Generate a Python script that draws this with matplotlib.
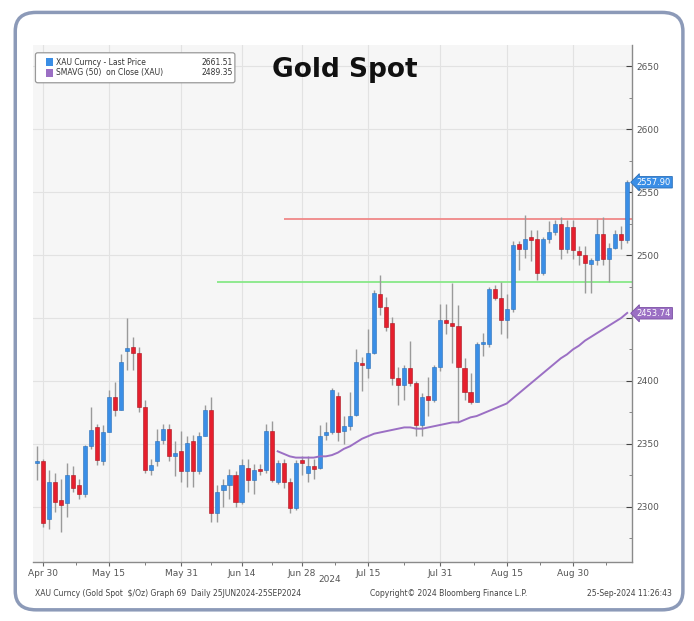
import numpy as np
import matplotlib
matplotlib.use("Agg")
import matplotlib.pyplot as plt
from matplotlib.patches import FancyBboxPatch, Rectangle

# daily OHLC (weekdays, 29 Apr - 13 Sep 2024)
opens = [2335, 2336, 2290, 2320, 2305, 2303, 2325, 2317, 2310, 2348,
         2363, 2336, 2359, 2387, 2377, 2424, 2427, 2422, 2379, 2329,
         2336, 2353, 2362, 2340, 2344, 2328, 2352, 2328, 2356, 2377,
         2295, 2313, 2317, 2325, 2304, 2331, 2321, 2330, 2329, 2360,
         2320, 2335, 2320, 2299, 2337, 2327, 2332, 2331, 2357, 2359,
         2388, 2360, 2364, 2373, 2414, 2410, 2422, 2469, 2459, 2446,
         2402, 2397, 2410, 2398, 2365, 2388, 2385, 2411, 2448, 2446,
         2444, 2410, 2391, 2383, 2429, 2429, 2473, 2466, 2448, 2457,
         2509, 2505, 2514, 2513, 2486, 2513, 2518, 2525, 2505, 2522,
         2503, 2500, 2493, 2496, 2517, 2497, 2506, 2517, 2512]
highs = [2348, 2338, 2329, 2327, 2322, 2335, 2332, 2322, 2349, 2379,
         2366, 2365, 2393, 2399, 2421, 2450, 2435, 2427, 2385, 2338,
         2362, 2366, 2366, 2352, 2360, 2356, 2357, 2359, 2381, 2387,
         2317, 2322, 2330, 2328, 2338, 2338, 2334, 2334, 2366, 2368,
         2337, 2338, 2323, 2337, 2340, 2340, 2338, 2365, 2367, 2394,
         2391, 2372, 2391, 2425, 2419, 2441, 2472, 2484, 2467, 2451,
         2411, 2413, 2432, 2400, 2390, 2403, 2413, 2461, 2461, 2478,
         2460, 2418, 2406, 2431, 2438, 2475, 2476, 2479, 2469, 2511,
         2511, 2532, 2520, 2520, 2514, 2527, 2528, 2530, 2528, 2528,
         2507, 2507, 2498, 2529, 2530, 2510, 2520, 2523, 2560]
lows = [2321, 2284, 2282, 2296, 2280, 2292, 2312, 2306, 2308, 2346,
        2333, 2333, 2359, 2372, 2377, 2409, 2409, 2375, 2327, 2325,
        2332, 2350, 2336, 2324, 2320, 2316, 2316, 2326, 2356, 2288,
        2288, 2300, 2306, 2300, 2302, 2312, 2310, 2325, 2327, 2320,
        2318, 2315, 2295, 2297, 2325, 2320, 2322, 2330, 2353, 2358,
        2352, 2350, 2361, 2372, 2392, 2402, 2421, 2452, 2440, 2397,
        2381, 2385, 2396, 2356, 2356, 2372, 2383, 2408, 2437, 2414,
        2367, 2385, 2382, 2383, 2420, 2427, 2464, 2437, 2434, 2455,
        2488, 2498, 2495, 2480, 2484, 2510, 2516, 2497, 2502, 2497,
        2492, 2470, 2470, 2492, 2492, 2479, 2505, 2505, 2510]
closes = [2336, 2287, 2320, 2304, 2301, 2325, 2315, 2310, 2348, 2361,
          2337, 2359, 2387, 2377, 2415, 2426, 2422, 2379, 2329, 2333,
          2352, 2362, 2340, 2343, 2328, 2351, 2328, 2356, 2377, 2295,
          2312, 2317, 2325, 2304, 2333, 2321, 2329, 2328, 2360, 2321,
          2335, 2320, 2299, 2335, 2335, 2332, 2330, 2356, 2359, 2393,
          2359, 2364, 2372, 2415, 2413, 2422, 2470, 2459, 2443, 2402,
          2397, 2410, 2398, 2365, 2387, 2385, 2411, 2448, 2446, 2444,
          2411, 2391, 2383, 2429, 2431, 2473, 2466, 2448, 2457, 2508,
          2505, 2513, 2512, 2486, 2513, 2518, 2525, 2505, 2522, 2504,
          2500, 2494, 2496, 2517, 2497, 2506, 2517, 2512, 2558]

# 50-day moving average, shown from day index 40 onwards
sma_start = 40
sma_vals = [2344, 2342, 2340, 2339, 2339, 2339, 2339, 2340, 2340, 2341,
            2343, 2346, 2348, 2351, 2354, 2356, 2358, 2359, 2360, 2361,
            2362, 2363, 2363, 2362, 2362, 2363, 2364, 2365, 2366, 2367,
            2367, 2369, 2371, 2372, 2374, 2376, 2378, 2380, 2382, 2386,
            2390, 2394, 2398, 2402, 2406, 2410, 2414, 2418, 2421, 2425,
            2428, 2432, 2435, 2438, 2441, 2444, 2447, 2450, 2454]

tick_idx = [1, 12, 24, 34, 44, 55, 67, 78, 89]
tick_labels = ['Apr 30', 'May 15', 'May 31', 'Jun 14', 'Jun 28',
               'Jul 15', 'Jul 31', 'Aug 15', 'Aug 30']
y_ticks = [2300, 2350, 2400, 2450, 2500, 2550, 2600, 2650]
# 2450 sits under the SMA tag in the screenshot
y_tick_labels = ['2300', '2350', '2400', '', '2500', '2550', '2600', '2650']

resistance = 2529   # red line
support = 2478.5    # green line
res_start, sup_start = 41, 30
last_price, last_sma = 2557.90, 2453.74

BLUE = '#3a8ee6'
RED = '#e61f2d'
PURPLE = '#9b6fc4'

fig = plt.figure(figsize=(6.94, 6.21), dpi=100)
fig.patch.set_facecolor('white')

# rounded frame around the whole screenshot
frame = FancyBboxPatch((0.022, 0.018), 0.962, 0.962,
                       boxstyle="round,pad=0,rounding_size=0.03",
                       transform=fig.transFigure, fill=False,
                       edgecolor='#8c9ab8', linewidth=2.5)
fig.patches.append(frame)

ax = fig.add_axes([0.0476, 0.095, 0.8631, 0.8325])
ax.set_facecolor('#f6f6f6')

o = np.array(opens, float)
h = np.array(highs, float)
l = np.array(lows, float)
c = np.array(closes, float)
x = np.arange(len(o))
up = c >= o
colors = np.where(up, BLUE, RED)
edges = np.where(up, '#2a6fb8', '#a8141f')

ax.vlines(x, l, h, color='#9a9a9a', linewidth=1.0, zorder=2)
body_bottom = np.minimum(o, c)
body_h = np.maximum(np.abs(c - o), 1.2)
ax.bar(x, body_h, bottom=body_bottom, width=0.68, color=colors,
       edgecolor=edges, linewidth=0.4, zorder=3)

xs = np.arange(sma_start, sma_start + len(sma_vals))
ax.plot(xs, sma_vals, color=PURPLE, linewidth=1.4, zorder=4)

ax.hlines(resistance, res_start, len(o) - 0.2, color='#f08888', linewidth=1.3, zorder=1.5)
ax.hlines(support, sup_start, len(o) - 0.2, color='#88e888', linewidth=1.3, zorder=1.5)

ax.set_xlim(-0.6, 98.8)
ax.set_ylim(2256, 2667)

ax.set_yticks(y_ticks)
ax.set_yticklabels(y_tick_labels)
ax.set_yticks(np.arange(2275, 2651, 25), minor=True)
ax.yaxis.tick_right()
ax.tick_params(axis='y', which='major', labelsize=6.5, labelcolor='#555555',
               color='#444444', length=4, direction='in', pad=3)
ax.tick_params(axis='y', which='minor', color='#777777', length=2, direction='in')
ax.set_xticks(tick_idx)
ax.set_xticklabels(tick_labels)
mids = [(a + b) / 2 for a, b in zip(tick_idx[:-1], tick_idx[1:])] + [94.5]
ax.set_xticks(mids, minor=True)
ax.tick_params(axis='x', which='major', labelsize=6.5, labelcolor='#555555',
               color='#666666', length=3, direction='out', pad=2)
ax.tick_params(axis='x', which='minor', color='#666666', length=2, direction='out')

ax.grid(True, which='major', color='#e2e2e2', linewidth=0.8, zorder=0)
ax.set_axisbelow(True)
for side in ['top', 'left']:
    ax.spines[side].set_visible(False)
for side in ['bottom', 'right']:
    ax.spines[side].set_color('#8a8a8a')
    ax.spines[side].set_linewidth(1.0)

# value tags on the right axis
trans = ax.get_yaxis_transform()
ax.text(1.008, last_price, f"{last_price:.2f}", transform=trans, fontsize=6,
        color='white', va='center', ha='left', clip_on=False, zorder=6,
        bbox=dict(boxstyle='larrow,pad=0.15', fc=BLUE, ec='#2a6fb8', lw=0.6))
ax.text(1.008, last_sma, f"{last_sma:.2f}", transform=trans, fontsize=6,
        color='white', va='center', ha='left', clip_on=False, zorder=6,
        bbox=dict(boxstyle='larrow,pad=0.15', fc=PURPLE, ec='#7a4fa4', lw=0.6))

# legend box
lg = FancyBboxPatch((0.004, 0.927), 0.333, 0.058,
                    boxstyle="round,pad=0,rounding_size=0.004",
                    transform=ax.transAxes, fc='white', ec='#999999', lw=0.9,
                    zorder=7)
ax.add_patch(lg)
rows = [(BLUE, 'XAU Curncy - Last Price', '2661.51'),
        (PURPLE, 'SMAVG (50)  on Close (XAU)', '2489.35')]
for i, (col, name, val) in enumerate(rows):
    yy = 0.967 - i * 0.021
    ax.add_patch(Rectangle((0.022, yy - 0.008), 0.012, 0.016, transform=ax.transAxes,
                           fc=col, ec='none', zorder=8))
    ax.text(0.038, yy, name, transform=ax.transAxes, fontsize=5.5,
            color='#333333', va='center', ha='left', zorder=8)
    ax.text(0.333, yy, val, transform=ax.transAxes, fontsize=5.5,
            color='#333333', va='center', ha='right', zorder=8)

fig.text(345 / 694, 1 - 70 / 621, 'Gold Spot', fontsize=19, fontweight='bold',
         ha='center', va='center', color='#111111')

fig.text(330 / 694, 1 - 580 / 621, '2024', fontsize=6.5, color='#555555',
         ha='center', va='center')
fig.text(35 / 694, 1 - 594 / 621,
         'XAU Curncy (Gold Spot  $/Oz) Graph 69  Daily 25JUN2024-25SEP2024',
         fontsize=5.5, color='#444444', ha='left', va='center')
fig.text(370 / 694, 1 - 594 / 621, 'Copyright\u00a9 2024 Bloomberg Finance L.P.',
         fontsize=5.5, color='#444444', ha='left', va='center')
fig.text(672 / 694, 1 - 594 / 621, '25-Sep-2024 11:26:43',
         fontsize=5.5, color='#444444', ha='right', va='center')

fig.savefig('out.png', dpi=100)
